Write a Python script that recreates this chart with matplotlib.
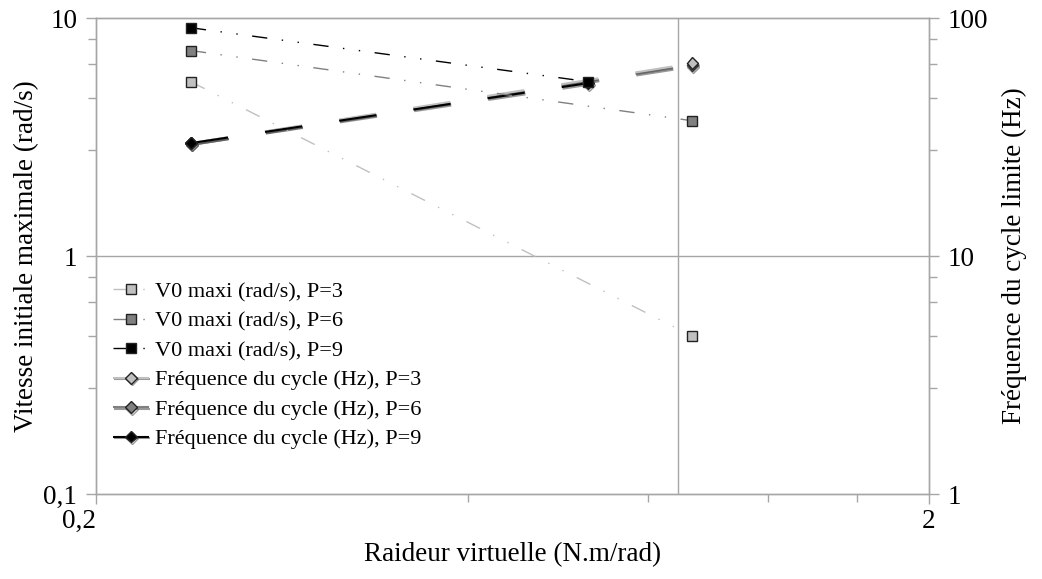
import matplotlib
matplotlib.use("Agg")
import matplotlib.pyplot as plt
import matplotlib.patheffects as pe
import matplotlib.transforms as mtransforms
from matplotlib.ticker import FixedLocator, NullFormatter

plt.rcParams['font.family'] = ['Liberation Serif', 'DejaVu Serif']

# Raideur virtuelle (N.m/rad)
raideur = [0.26, 1.04]
raideur_p9 = [0.26, 0.78]

# Vitesse initiale maximale (rad/s)
v0_p3 = [5.4, 0.46]
v0_p6 = [7.3, 3.7]
v0_p9 = [9.1, 5.4]

# Fréquence du cycle limite (Hz)
freq_p3 = [29.8, 64.5]
freq_p6 = [29.8, 63.5]
freq_p9 = [29.8, 53.3]

GRIS_AXE = '#a6a6a6'
CLAIR = '#c0c0c0'
MOYEN = '#808080'
NOIR = '#000000'

fig = plt.figure(figsize=(10.42, 5.79), dpi=100)
ax = fig.add_axes([0.0921, 0.1468, 0.7995, 0.8221])
ax2 = ax.twinx()

ax.set_xscale('log')
ax.set_yscale('log')
ax2.set_yscale('log')
ax.set_xlim(0.2, 2)
ax.set_ylim(0.1, 10)
ax2.set_ylim(1, 100)

# grille : y=1 à gauche, x=1
ax.axhline(1, color=GRIS_AXE, lw=1.0, zorder=0)
ax.axvline(1, color=GRIS_AXE, lw=1.0, zorder=0)

tiret_point_point = (0, (11, 10.5, 1, 10.5, 1, 10.5))
tirets_longs = (0, (18, 18))

ombre = [pe.SimpleLineShadow(offset=(0.6, -1.2), shadow_color='#555555', alpha=0.6), pe.Normal()]
courbes_f = [(freq_p6, raideur, MOYEN, 'Fréquence du cycle (Hz), P=6'),
             (freq_p3, raideur, CLAIR, 'Fréquence du cycle (Hz), P=3'),
             (freq_p9, raideur_p9, NOIR, 'Fréquence du cycle (Hz), P=9')]
poignees_f = {}
for f, x, c, nom in courbes_f:
    l, = ax2.plot(x, f, color=c, lw=1.5, linestyle=tirets_longs,
                  marker='D', markersize=6, markerfacecolor=c,
                  markeredgecolor='#222222', markeredgewidth=1.0, label=nom,
                  path_effects=ombre, zorder=2)
    poignees_f[nom] = l

# les carrés V0 passent au-dessus des courbes de fréquence
courbes_v0 = [(v0_p3, raideur, CLAIR, 'V0 maxi (rad/s), P=3'),
              (v0_p6, raideur, MOYEN, 'V0 maxi (rad/s), P=6'),
              (v0_p9, raideur_p9, NOIR, 'V0 maxi (rad/s), P=9')]
poignees = []
for v, x, c, nom in courbes_v0:
    l, = ax2.plot(x, v, color=c, lw=1.0, linestyle=tiret_point_point,
                  marker='s', markersize=7.5, markerfacecolor=c,
                  markeredgecolor='#222222', markeredgewidth=1.0, label=nom,
                  zorder=3, transform=ax.transData)
    poignees.append(l)

poignees += [poignees_f['Fréquence du cycle (Hz), P=3'],
             poignees_f['Fréquence du cycle (Hz), P=6'],
             poignees_f['Fréquence du cycle (Hz), P=9']]

# graduations
ax.xaxis.set_major_locator(FixedLocator([0.2, 2]))
ax.set_xticklabels(['0,2', '2'])
lab0 = ax.get_xticklabels()[0]
lab0.set_horizontalalignment('right')
lab0.set_transform(lab0.get_transform() + mtransforms.ScaledTranslation(-0.03, 0, fig.dpi_scale_trans))
ax.xaxis.set_minor_locator(FixedLocator([0.56, 0.92, 1.28, 1.64]))
ax.xaxis.set_minor_formatter(NullFormatter())

ax.yaxis.set_major_locator(FixedLocator([0.1, 1, 10]))
ax.set_yticklabels(['0,1', '1', '10'])
ax.yaxis.set_minor_locator(FixedLocator([0.28, 0.46, 0.64, 0.82, 2.8, 4.6, 6.4, 8.2]))
ax.yaxis.set_minor_formatter(NullFormatter())

ax2.yaxis.set_major_locator(FixedLocator([1, 10, 100]))
ax2.set_yticklabels(['1', '10', '100'])
ax2.yaxis.set_minor_locator(FixedLocator([2.8, 4.6, 6.4, 8.2, 28, 46, 64, 82]))
ax2.yaxis.set_minor_formatter(NullFormatter())

for a in (ax, ax2):
    for s in a.spines.values():
        s.set_color(GRIS_AXE)
        s.set_linewidth(1.0)
    a.tick_params(which='major', length=7.5, width=1.0, color=GRIS_AXE,
                  labelsize=19.5, direction='out', pad=6)
    a.tick_params(which='minor', length=6, width=1.0, color=GRIS_AXE, direction='out')
ax.tick_params(axis='x', which='major', pad=3)

ax.set_xlabel('Raideur virtuelle (N.m/rad)', fontsize=19.5, labelpad=6)
ax.set_ylabel('Vitesse initiale maximale (rad/s)', fontsize=19.5, labelpad=3)
ax2.set_ylabel('Fréquence du cycle limite (Hz)', fontsize=19.5, labelpad=10)

ax2.legend(handles=poignees, loc='upper left', bbox_to_anchor=(0.01, 0.465),
           frameon=False, fontsize=16, handlelength=1.6, handletextpad=0.3,
           labelspacing=0.4, borderaxespad=0)

fig.savefig('out.png', dpi=100)
